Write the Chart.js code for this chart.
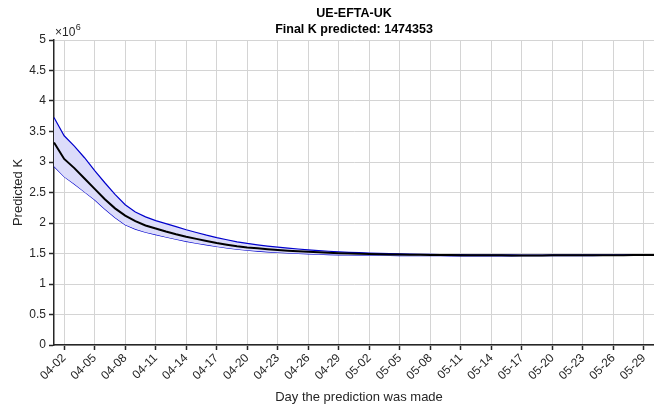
<!DOCTYPE html>
<html>
<head>
<meta charset="utf-8">
<script src="https://cdn.jsdelivr.net/npm/chart.js@4/dist/chart.umd.min.js"></script>
<style>
  html, body { margin: 0; padding: 0; background: #ffffff; }
  #wrap { width: 654px; height: 405px; position: relative; }
</style>
</head>
<body>
<div id="wrap"><canvas id="chart" width="654" height="405"></canvas></div>
<script>
// Prediction dates (MM-DD)
const dates = [
  '04-01','04-02','04-03','04-04','04-05','04-06','04-07','04-08','04-09','04-10',
  '04-11','04-12','04-13','04-14','04-15','04-16','04-17','04-18','04-19','04-20',
  '04-21','04-22','04-23','04-24','04-25','04-26','04-27','04-28','04-29','04-30',
  '05-01','05-02','05-03','05-04','05-05','05-06','05-07','05-08','05-09','05-10',
  '05-11','05-12','05-13','05-14','05-15','05-16','05-17','05-18','05-19','05-20',
  '05-21','05-22','05-23','05-24','05-25','05-26','05-27','05-28','05-29','05-30'
];

// Predicted final size K made on each day
const predictedK = [
  3320000, 3050000, 2900000, 2730000, 2560000, 2390000, 2240000, 2120000, 2030000, 1960000,
  1910000, 1860000, 1815000, 1775000, 1740000, 1705000, 1672000, 1645000, 1620000, 1600000,
  1585000, 1570000, 1558000, 1547000, 1537000, 1528000, 1520000, 1512000, 1505000, 1499000,
  1494000, 1490000, 1487000, 1484000, 1482000, 1480000, 1478000, 1476000, 1475000, 1474000,
  1473000, 1472000, 1471000, 1470000, 1470000, 1469000, 1469000, 1469000, 1469000, 1470000,
  1470000, 1470000, 1471000, 1471000, 1472000, 1473000, 1473000, 1474000, 1474000, 1474353
];

// Upper bound of the prediction interval
const upperK = [
  3730000, 3430000, 3260000, 3070000, 2860000, 2660000, 2470000, 2300000, 2180000, 2100000,
  2040000, 1990000, 1940000, 1890000, 1845000, 1800000, 1760000, 1725000, 1692000, 1665000,
  1642000, 1622000, 1604000, 1588000, 1574000, 1560000, 1548000, 1537000, 1528000, 1520000,
  1513000, 1507000, 1502000, 1497000, 1493000, 1490000, 1487000, 1485000, 1483000, 1481000,
  1480000, 1479000, 1478000, 1477000, 1476000, 1476000, 1475000, 1475000, 1475000, 1476000,
  1476000, 1477000, 1477000, 1478000, 1478000, 1479000, 1479000, 1480000, 1480000, 1480000
];

// Lower bound of the prediction interval
const lowerK = [
  2930000, 2760000, 2640000, 2510000, 2380000, 2230000, 2090000, 1970000, 1900000, 1850000,
  1810000, 1770000, 1735000, 1700000, 1670000, 1642000, 1615000, 1592000, 1570000, 1553000,
  1540000, 1528000, 1518000, 1509000, 1501000, 1494000, 1488000, 1483000, 1479000, 1476000,
  1473000, 1471000, 1469000, 1467000, 1466000, 1465000, 1464000, 1463000, 1463000, 1462000,
  1462000, 1462000, 1462000, 1462000, 1462000, 1462000, 1463000, 1463000, 1463000, 1464000,
  1464000, 1465000, 1465000, 1466000, 1467000, 1467000, 1468000, 1468000, 1469000, 1469000
];

const titleLines = ['UE-EFTA-UK', 'Final K predicted: 1474353'];
const xTitle = 'Day the prediction was made';
const yTitle = 'Predicted K';

const FONT = '"Liberation Sans", Arial, Helvetica, sans-serif';
const INK = '#262626';

// Titles, axis labels and the exponent marker
const annotate = {
  id: 'annotate',
  afterDraw(chart) {
    const ctx = chart.ctx;
    const area = chart.chartArea;
    const cx = (area.left + area.right) / 2;
    ctx.save();
    ctx.fillStyle = '#000000';
    ctx.textAlign = 'center';
    ctx.textBaseline = 'middle';
    ctx.font = 'bold 12.5px ' + FONT;
    ctx.fillText(titleLines[0], cx, 14);
    ctx.fillText(titleLines[1], cx, 30);

    ctx.fillStyle = INK;
    ctx.font = '13px ' + FONT;
    ctx.fillText(xTitle, cx + 5, 397);

    ctx.save();
    ctx.translate(18, (area.top + area.bottom) / 2);
    ctx.rotate(-Math.PI / 2);
    ctx.fillText(yTitle, 0, 0);
    ctx.restore();

    ctx.textAlign = 'left';
    ctx.font = '12px ' + FONT;
    ctx.fillText('\u00d710', area.left + 1, 33);
    const w = ctx.measureText('\u00d710').width;
    ctx.font = '9px ' + FONT;
    ctx.fillText('6', area.left + 1 + w + 0.5, 28);
    ctx.restore();
  }
};

new Chart(document.getElementById('chart'), {
  type: 'line',
  data: {
    labels: dates,
    datasets: [
      {
        label: 'Predicted K',
        data: predictedK,
        borderColor: '#000000',
        borderWidth: 2,
        pointRadius: 0,
        tension: 0,
        fill: false,
        order: 0
      },
      {
        label: 'Upper bound',
        data: upperK,
        borderColor: '#0000cc',
        borderWidth: 1.2,
        pointRadius: 0,
        tension: 0,
        fill: '+1',
        backgroundColor: 'rgb(220,220,250)',
        order: 1
      },
      {
        label: 'Lower bound',
        data: lowerK,
        borderColor: '#0000cc',
        borderWidth: 1.2,
        pointRadius: 0,
        tension: 0,
        fill: false,
        order: 1
      }
    ]
  },
  options: {
    responsive: false,
    animation: false,
    devicePixelRatio: 1,
    layout: { padding: { top: 40, left: 0, right: 0, bottom: 0 } },
    plugins: {
      legend: { display: false },
      title: { display: false },
      tooltip: { enabled: false }
    },
    scales: {
      x: {
        type: 'category',
        offset: false,
        grid: {
          color: '#d4d4d4',
          lineWidth: 1,
          drawTicks: true,
          tickLength: 5,
          tickColor: INK,
          tickWidth: 1.5
        },
        border: { display: true, color: INK, width: 1.5 },
        ticks: {
          autoSkip: false,
          minRotation: 45,
          maxRotation: 45,
          padding: 1,
          color: INK,
          font: { family: FONT, size: 12 },
          callback(value, index) {
            return (index - 1) % 3 === 0 ? dates[index] : null;
          }
        },
        afterFit(scale) {
          scale.height = 60;
          scale.paddingLeft = 0;
          scale.paddingRight = 0;
        }
      },
      y: {
        min: 0,
        max: 5000000,
        grid: {
          color: '#d4d4d4',
          lineWidth: 1,
          drawTicks: true,
          tickLength: 5,
          tickColor: INK,
          tickWidth: 1.5
        },
        border: { display: true, color: INK, width: 1.5 },
        ticks: {
          stepSize: 500000,
          padding: 3,
          color: INK,
          font: { family: FONT, size: 12 },
          callback(value) {
            return String(value / 1000000);
          }
        },
        afterFit(scale) {
          scale.width = 54;
          scale.paddingTop = 0;
          scale.paddingBottom = 0;
        }
      }
    }
  },
  plugins: [annotate]
});
</script>
</body>
</html>
